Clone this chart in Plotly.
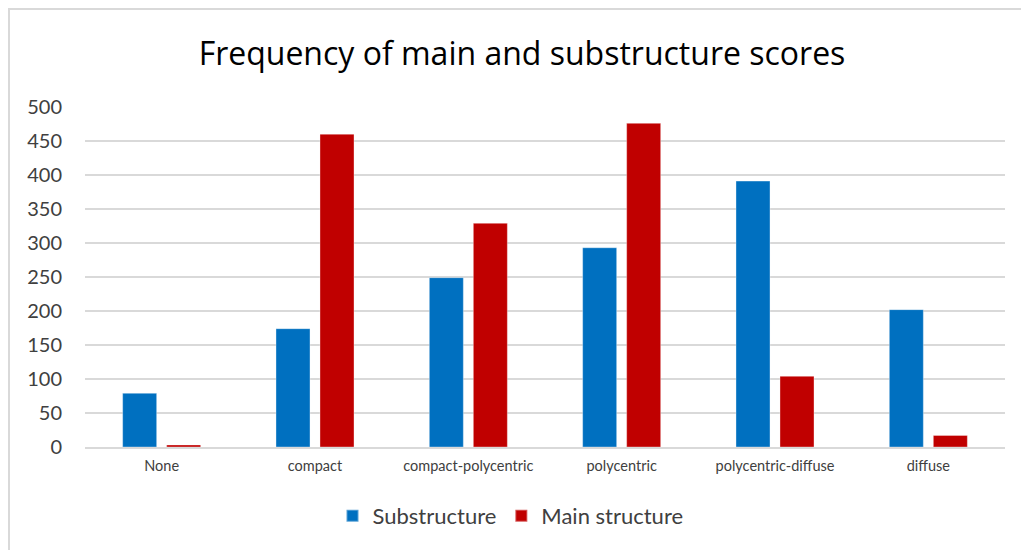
import plotly.graph_objects as go

# Score categories and counts per structure type
categories = ["None", "compact", "compact-polycentric", "polycentric",
              "polycentric-diffuse", "diffuse"]
substructure = [79, 174, 249, 293, 391, 202]
main_structure = [3, 460, 329, 476, 104, 17]
y_ticks = [0, 50, 100, 150, 200, 250, 300, 350, 400, 450, 500]

FONT = "Lato"
GRID = "#d9d9d9"

fig = go.Figure()
fig.add_trace(go.Bar(
    x=categories, y=substructure, name="Substructure",
    marker=dict(color="#0070C0", line=dict(color="rgba(255,255,255,0.35)", width=1)),
))
fig.add_trace(go.Bar(
    x=categories, y=main_structure, name="Main structure",
    marker=dict(color="#C00000", line=dict(color="rgba(255,255,255,0.35)", width=1)),
))

L, R, T, B = 85, 16, 107, 103
W, H = 1021, 550
pw, ph = W - L - R, H - T - B

fig.update_layout(
    width=W, height=H,
    margin=dict(l=L, r=R, t=T, b=B),
    paper_bgcolor="white", plot_bgcolor="white",
    barmode="group", bargap=0.426, bargroupgap=0.227,
    font=dict(family=FONT, color="#404040"),
    title=dict(
        text="Frequency of main and substructure scores",
        font=dict(family="Open Sans", size=32, color="#000000"),
        x=522 / W, xanchor="center", xref="container",
        y=1 - 54 / H, yanchor="middle",
    ),
    xaxis=dict(
        showgrid=False, showline=True, linecolor=GRID, linewidth=1.5,
        tickfont=dict(family=FONT, size=14.5, color="#404040"),
        ticks="", ticklabelstandoff=5,
    ),
    yaxis=dict(
        range=[0, 500], tickvals=y_ticks,
        showgrid=True, gridcolor=GRID, gridwidth=1.5,
        zeroline=False, showline=False,
        tickfont=dict(family=FONT, size=20, color="#404040"),
        ticks="", ticklabelstandoff=22,
    ),
    legend=dict(
        orientation="h", x=0.5, xanchor="center", xref="container",
        y=1 - 516 / H, yanchor="middle", yref="container",
        font=dict(family=FONT, size=22, color="#404040"),
        itemsizing="constant",
    ),
    showlegend=True,
)

# Light outer frame around the chart
fig.add_shape(
    type="rect", xref="paper", yref="paper",
    x0=(9 - L) / pw, x1=(1021 + 2 - L) / pw,
    y0=-(B + 5) / ph, y1=(ph + T - 9) / ph,
    line=dict(color=GRID, width=2), fillcolor="rgba(0,0,0,0)", layer="below",
)

fig.write_html("out.html")
